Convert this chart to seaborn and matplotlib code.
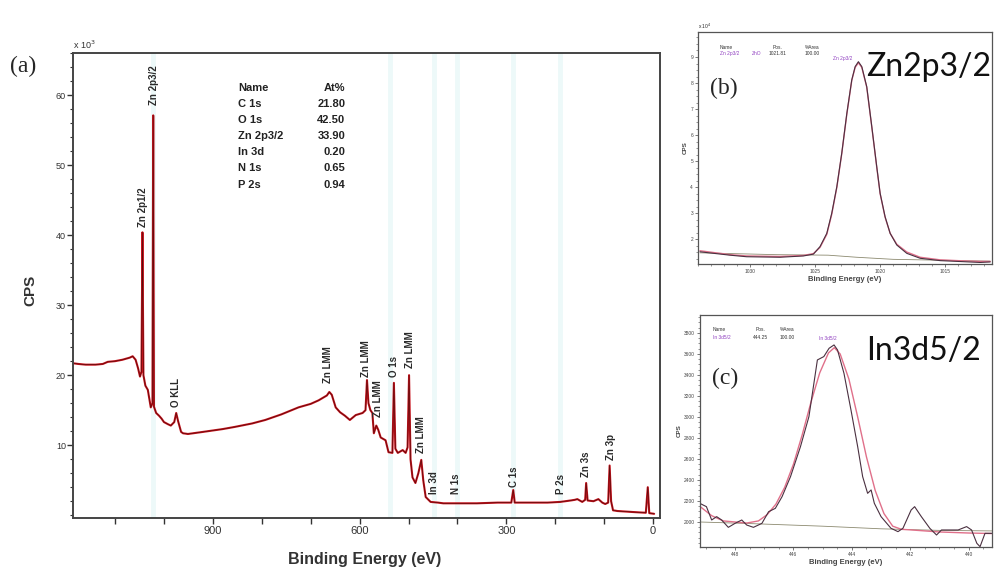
import numpy as np
import pandas as pd
import matplotlib
matplotlib.use("Agg")
import matplotlib.pyplot as plt
import seaborn as sns
from matplotlib.ticker import FixedLocator, MultipleLocator, FuncFormatter

# ---- survey spectrum (a), binding energy in eV, counts in 10^3 CPS ----
survey_ev = [1186, 1175, 1160, 1140, 1125, 1115, 1100, 1085, 1070, 1064, 1058, 1053, 1049,
             1046, 1044, 1042, 1038, 1033, 1027, 1023.5, 1022, 1020.5, 1016, 1010, 1005,
             1000, 992, 986, 979, 975, 971, 965, 961, 951, 920, 880, 856, 820, 793, 760,
             725, 700, 684, 667, 662, 657, 649, 640, 630, 620, 608, 594, 588, 585, 582,
             578, 574, 571, 566, 562, 557, 547, 541, 533, 530, 527, 522, 512, 506, 502,
             499, 496, 492, 486, 480, 474, 470, 465, 455, 440, 429, 400, 360, 318, 290,
             286, 283, 250, 216, 190, 169, 160, 155, 145, 139, 137, 134, 122, 112, 104,
             98, 92, 89, 86, 82, 73, 40, 15, 11, 8, -2]
survey_kcps = [21.7, 21.6, 21.5, 21.5, 21.6, 21.9, 22.0, 22.2, 22.5, 22.7, 22.2, 21.0, 19.8,
               20.5, 40.4, 20.0, 18.5, 17.9, 15.4, 16.0, 57.1, 15.5, 14.6, 14.2, 13.8,
               13.3, 13.0, 12.8, 13.3, 14.6, 13.4, 11.9, 11.7, 11.6, 11.9, 12.3, 12.6, 13.1,
               13.6, 14.4, 15.4, 15.9, 16.4, 17.1, 17.6, 17.2, 15.4, 14.7, 14.2, 13.6, 14.3,
               14.6, 15.0, 19.3, 16.0, 15.0, 14.6, 11.7, 12.8, 12.2, 11.1, 10.7, 9.0, 8.9,
               18.9, 9.5, 8.9, 9.3, 8.9, 9.7, 20.0, 8.0, 5.4, 4.6, 6.0, 7.9, 5.0, 2.6, 1.9,
               1.8, 1.7, 1.7, 1.7, 1.8, 1.8, 3.6, 1.8, 1.8, 1.8, 1.9, 2.1, 2.2, 2.3, 1.9,
               2.2, 4.6, 2.1, 2.0, 2.3, 1.8, 1.6, 1.8, 7.1, 2.0, 0.7, 0.6, 0.45, 0.35, 4.0,
               0.3, 0.2]

peak_names = ["Zn 2p3/2", "Zn 2p1/2", "O KLL", "Zn LMM", "Zn LMM", "Zn LMM", "O 1s",
              "Zn LMM", "Zn LMM", "In 3d", "N 1s", "C 1s", "P 2s", "Zn 3s", "Zn 3p"]
peak_label_ev = [1021, 1043, 975, 664, 586, 563, 529, 498, 474, 449, 404, 284, 188, 137, 86]
peak_label_kcps = [58.6, 41.2, 15.4, 18.9, 19.8, 14.0, 19.7, 21.0, 8.9, 3.1, 3.1, 4.0, 3.1, 5.4, 7.9]

marker_lines_ev = [1022, 537, 449, 400, 286, 190]

quant_names = ["C 1s", "O 1s", "Zn 2p3/2", "In 3d", "N 1s", "P 2s"]
quant_at = ["21.80", "42.50", "33.90", "0.20", "0.65", "0.94"]

# ---- Zn 2p3/2 high resolution (b), counts in 10^4 CPS ----
zn_ev = [1033.85, 1031.54, 1030.26, 1027.69, 1025.90, 1025.13, 1024.62, 1024.10, 1023.72,
         1023.33, 1022.95, 1022.56, 1022.18, 1021.92, 1021.67, 1021.41, 1021.03, 1020.64,
         1020.26, 1020.0, 1019.62, 1019.23, 1018.72, 1017.95, 1016.92, 1015.38, 1013.59,
         1012.31, 1011.54]
zn_raw = [1.51, 1.38, 1.32, 1.30, 1.35, 1.42, 1.71, 2.22, 2.99, 4.01, 5.30, 6.83, 8.12, 8.63,
          8.82, 8.63, 7.86, 6.32, 4.78, 3.76, 2.86, 2.22, 1.77, 1.45, 1.26, 1.17, 1.13, 1.10, 1.12]
zn_env = [1.55, 1.40, 1.35, 1.33, 1.37, 1.44, 1.68, 2.18, 2.95, 3.98, 5.28, 6.80, 8.10, 8.60,
          8.78, 8.60, 7.84, 6.30, 4.76, 3.74, 2.84, 2.22, 1.80, 1.50, 1.30, 1.20, 1.16, 1.14, 1.14]
zn_bg_ev = [1033.85, 1028.0, 1024.0, 1021.8, 1019.0, 1011.54]
zn_bg = [1.47, 1.40, 1.38, 1.30, 1.22, 1.15]

# ---- In 3d5/2 high resolution (c), CPS ----
in_ev = [449.21, 448.98, 448.80, 448.63, 448.46, 448.23, 448.00, 447.77, 447.60, 447.37,
         447.08, 446.85, 446.62, 446.39, 446.10, 445.76, 445.47, 445.18, 444.96, 444.78,
         444.61, 444.49, 444.27, 444.03, 443.80, 443.63, 443.46, 443.34, 443.23, 443.00,
         442.66, 442.42, 442.25, 441.97, 441.85, 441.62, 441.33, 441.10, 440.93, 440.70,
         440.36, 440.07, 439.90, 439.72, 439.61, 439.44, 439.21]
in_raw = [2178, 2146, 2019, 2051, 2019, 1949, 1987, 2019, 1971, 1949, 1987, 2098, 2130, 2241,
          2432, 2717, 3003, 3543, 3575, 3654, 3686, 3638, 3416, 3067, 2717, 2432, 2273, 2305,
          2178, 2051, 1940, 1908, 1940, 2114, 2146, 2051, 1940, 1876, 1924, 1924, 1924, 1956,
          1924, 1797, 1765, 1892, 1892]
in_env_ev = [449.21, 448.8, 448.4, 448.0, 447.6, 447.2, 446.9, 446.6, 446.3, 446.0, 445.7,
             445.4, 445.1, 444.8, 444.6, 444.4, 444.1, 443.8, 443.5, 443.2, 442.9, 442.6,
             442.3, 442.0, 441.5, 441.0, 440.5, 440.0, 439.21]
in_env = [2150, 2060, 2010, 2000, 1990, 2010, 2070, 2170, 2330, 2550, 2830, 3140, 3420, 3610,
          3660, 3600, 3360, 3000, 2620, 2300, 2080, 1960, 1930, 1925, 1915, 1905, 1900, 1895, 1890]
in_bg_ev = [449.21, 447.5, 445.0, 443.0, 441.0, 439.21]
in_bg = [2000, 1985, 1960, 1935, 1920, 1915]

sns.set_theme(style="ticks")
plt.rcParams["font.family"] = ["Liberation Sans", "DejaVu Sans"]

fig = plt.figure(figsize=(9.97, 5.69), dpi=100)

# ===================== panel (a) =====================
ax = fig.add_axes([0.0732, 0.0896, 0.5888, 0.8172])
for ev in marker_lines_ev:
    ax.axvline(ev, color="#edf9f9", lw=3.5, zorder=0)
survey = pd.DataFrame({"ev": survey_ev, "kcps": survey_kcps})
sns.lineplot(data=survey, x="ev", y="kcps", ax=ax, color="#c8141e", lw=1.5,
             estimator=None, sort=False, legend=False)
sns.lineplot(data=survey, x="ev", y="kcps", ax=ax, color="#5a0a0a", lw=0.5,
             estimator=None, sort=False, legend=False)
ax.set_xlim(1186, -14)
ax.set_ylim(-0.4, 66)

ax.xaxis.set_major_locator(FixedLocator(list(range(0, 1200, 100))))
ax.xaxis.set_major_formatter(FuncFormatter(lambda v, p: f"{int(v)}" if int(v) % 300 == 0 else ""))
ax.yaxis.set_major_locator(FixedLocator([10, 20, 30, 40, 50, 60]))
ax.yaxis.set_minor_locator(MultipleLocator(2))
ax.tick_params(axis="x", direction="out", length=4, width=1, labelsize=8, pad=2, colors="#333333")
ax.tick_params(axis="y", direction="out", length=4, width=1, labelsize=6.5, pad=1, colors="#333333")
ax.tick_params(axis="y", which="minor", direction="out", length=2.5, width=0.8, color="#333333")
for s in ax.spines.values():
    s.set_linewidth(1.4)
    s.set_color("#444444")

ax.set_xlabel("Binding Energy (eV)", fontsize=11.5, fontweight="bold", color="#333333")
ax.xaxis.set_label_coords(0.497, -0.073)
ax.set_ylabel("CPS", fontsize=11, fontweight="bold", color="#333333")
ax.yaxis.set_label_coords(-0.06, 0.49)
ax.text(0.0, 1.004, r"x 10$^3$", transform=ax.transAxes, fontsize=6.5, ha="left", va="bottom",
        color="#333333")

for name, ev, y in zip(peak_names, peak_label_ev, peak_label_kcps):
    ax.text(ev, y, name, rotation=90, ha="center", va="bottom", fontsize=7,
            fontweight="bold", color="#2a2a2a")

row_y = [58.7, 56.4, 54.1, 51.9, 49.6, 47.1]
ax.text(849, 61.0, "Name", fontsize=8, fontweight="bold", ha="left", va="center", color="#222222")
ax.text(629, 61.0, "At%", fontsize=8, fontweight="bold", ha="right", va="center", color="#222222")
for name, val, y in zip(quant_names, quant_at, row_y):
    ax.text(849, y, name, fontsize=8, fontweight="bold", ha="left", va="center", color="#222222")
    ax.text(629, y, val, fontsize=8, fontweight="bold", ha="right", va="center", color="#222222")

fig.text(10 / 997, 1 - 72 / 569, "(a)", fontsize=17, family="Liberation Serif", ha="left",
         va="baseline")


def style_small(axs):
    axs.tick_params(axis="both", which="major", direction="out", length=2.5, width=0.5,
                    labelsize=3.5, pad=1, colors="#444444")
    axs.tick_params(axis="both", which="minor", direction="out", length=1.3, width=0.4,
                    colors="#444444")
    for s in axs.spines.values():
        s.set_linewidth(0.9)
        s.set_color("#555555")
    axs.set_xlabel("Binding Energy (eV)", fontsize=5.5, fontweight="bold", color="#444444",
                   labelpad=1.5)
    axs.set_ylabel("CPS", fontsize=4.5, fontweight="bold", color="#444444", labelpad=2)


# ===================== panel (b) =====================
axb = fig.add_axes([0.7001, 0.536, 0.2949, 0.4077])
sns.lineplot(x=zn_bg_ev, y=zn_bg, ax=axb, color="#8c8a70", lw=0.6, estimator=None, sort=False)
sns.lineplot(x=zn_ev, y=zn_env, ax=axb, color="#e0708a", lw=1.0, estimator=None, sort=False)
sns.lineplot(x=zn_ev, y=zn_raw, ax=axb, color="#4a3040", lw=0.8, estimator=None, sort=False)
axb.set_xlim(1034, 1011.4)
axb.set_ylim(1.04, 9.96)
axb.xaxis.set_major_locator(FixedLocator([1030, 1025, 1020, 1015]))
axb.xaxis.set_minor_locator(MultipleLocator(1))
axb.yaxis.set_major_locator(FixedLocator([2, 3, 4, 5, 6, 7, 8, 9]))
axb.yaxis.set_minor_locator(MultipleLocator(0.25))
style_small(axb)
axb.text(0.0, 1.005, r"x 10$^4$", transform=axb.transAxes, fontsize=3.5, ha="left", va="bottom")
axb.text(1032.3, 9.38, "Name", fontsize=3.5, color="#333333", ha="left", va="center")
axb.text(1027.85, 9.38, "Pos.", fontsize=3.5, color="#333333", ha="center", va="center")
axb.text(1025.2, 9.38, "%Area", fontsize=3.5, color="#333333", ha="center", va="center")
axb.text(1032.3, 9.15, "Zn 2p3/2", fontsize=3.5, color="#9040c0", ha="left", va="center")
axb.text(1029.5, 9.15, "ZnO", fontsize=3.5, color="#9040c0", ha="center", va="center")
axb.text(1027.85, 9.15, "1021.81", fontsize=3.5, color="#333333", ha="center", va="center")
axb.text(1025.2, 9.15, "100.00", fontsize=3.5, color="#333333", ha="center", va="center")
axb.text(1022.85, 8.96, "Zn 2p3/2", fontsize=3.5, color="#9040c0", ha="center", va="center")
fig.text(866 / 997, 1 - 76 / 569, "Zn2p3/2", fontsize=23, family="Lato", ha="left",
         va="baseline", color="#111111")
fig.text(710 / 997, 1 - 94 / 569, "(b)", fontsize=17, family="Liberation Serif", ha="left",
         va="baseline")

# ===================== panel (c) =====================
axc = fig.add_axes([0.7021, 0.0387, 0.2929, 0.4077])
sns.lineplot(x=in_bg_ev, y=in_bg, ax=axc, color="#8c8a70", lw=0.6, estimator=None, sort=False)
sns.lineplot(x=in_env_ev, y=in_env, ax=axc, color="#e0708a", lw=1.0, estimator=None, sort=False)
sns.lineplot(x=in_ev, y=in_raw, ax=axc, color="#4a3040", lw=0.8, estimator=None, sort=False)
axc.set_xlim(449.2, 439.2)
axc.set_ylim(1762, 3971)
axc.xaxis.set_major_locator(FixedLocator([448, 446, 444, 442, 440]))
axc.xaxis.set_minor_locator(MultipleLocator(0.5))
axc.yaxis.set_major_locator(FixedLocator(list(range(2000, 3801, 200))))
axc.yaxis.set_minor_locator(MultipleLocator(50))
style_small(axc)
axc.text(448.76, 3829, "Name", fontsize=3.5, color="#333333", ha="left", va="center")
axc.text(447.14, 3829, "Pos.", fontsize=3.5, color="#333333", ha="center", va="center")
axc.text(446.21, 3829, "%Area", fontsize=3.5, color="#333333", ha="center", va="center")
axc.text(448.76, 3752, "In 3d5/2", fontsize=3.5, color="#9040c0", ha="left", va="center")
axc.text(447.14, 3752, "444.25", fontsize=3.5, color="#333333", ha="center", va="center")
axc.text(446.21, 3752, "100.00", fontsize=3.5, color="#333333", ha="center", va="center")
axc.text(444.83, 3743, "In 3d5/2", fontsize=3.5, color="#9040c0", ha="center", va="center")
fig.text(866 / 997, 1 - 360 / 569, "In3d5/2", fontsize=23, family="Lato", ha="left",
         va="baseline", color="#111111")
fig.text(712 / 997, 1 - 384 / 569, "(c)", fontsize=17, family="Liberation Serif", ha="left",
         va="baseline")

fig.savefig("out.png", dpi=100)
